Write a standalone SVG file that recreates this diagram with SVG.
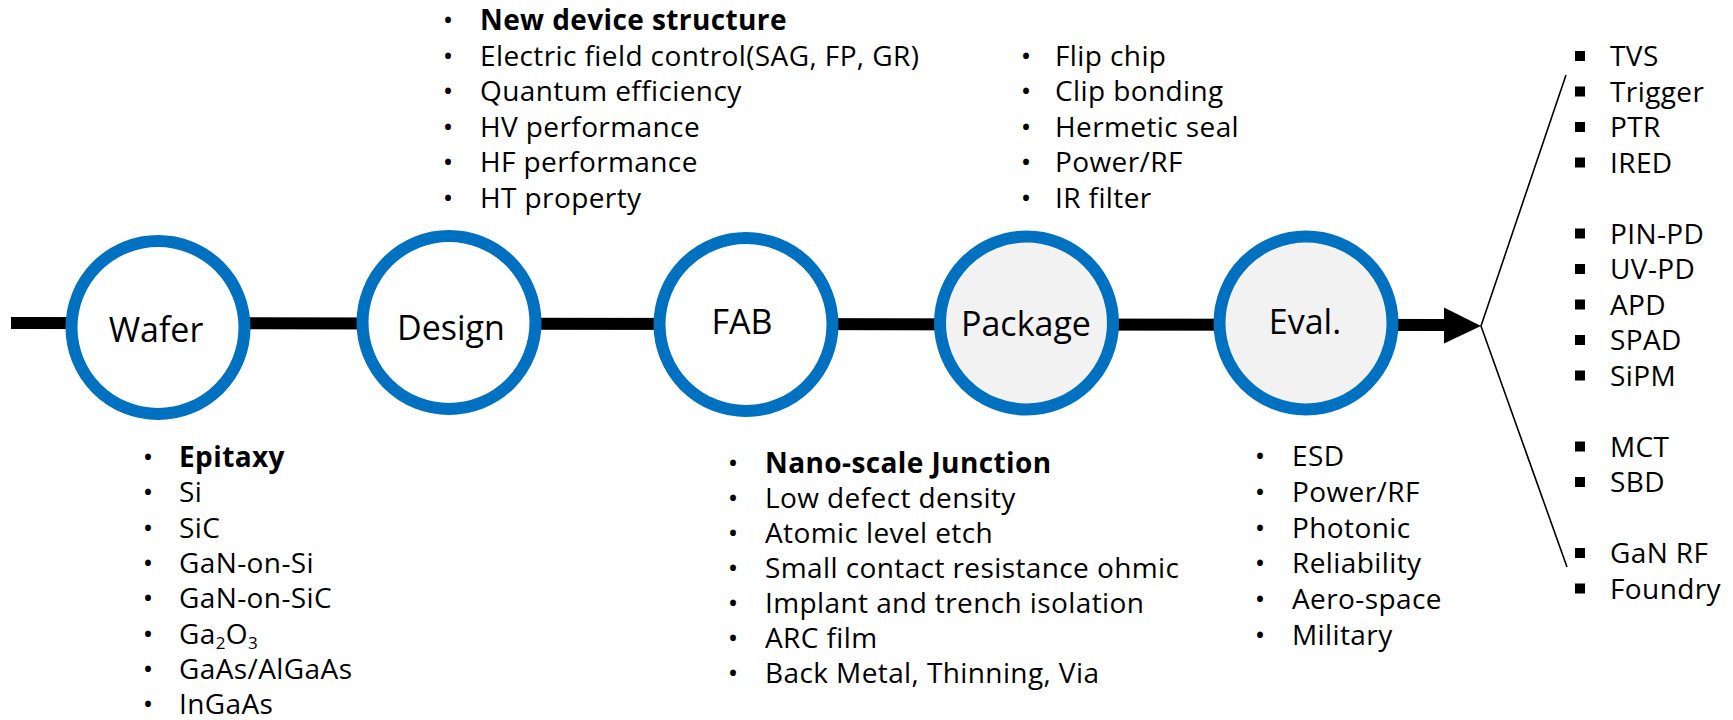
<svg xmlns="http://www.w3.org/2000/svg" width="1733" height="720" viewBox="0 0 1733 720">
<style>
  .t { font-family: "Open Sans", "Noto Sans", "Liberation Sans", sans-serif; font-size: 28px; fill: #000; letter-spacing: 0.4px; }
  .b { font-weight: bold; }
  .lbl { font-family: "Open Sans", "Noto Sans", "Liberation Sans", sans-serif; font-size: 34px; fill: #000; text-anchor: middle; }
  .node { stroke: #0070C0; stroke-width: 12; }
  .white { fill: #FFFFFF; }
  .grey { fill: #F2F2F2; }
  .bul { font-family: "Open Sans", "Noto Sans", "Liberation Sans", sans-serif; font-size: 28px; fill: #000; text-anchor: middle; }
  .sub { font-size: 17px; }
</style>
<defs>
  <rect id="sq" x="-5" y="-5" width="10" height="10" fill="#000"/>
</defs>
<rect x="0" y="0" width="1733" height="720" fill="#FFFFFF"/>

<g id="connectors">
  <line x1="11" y1="323" x2="1446" y2="325" stroke="#000" stroke-width="12"/>
  <polygon points="1444,307.5 1481,326 1444,343.5" fill="#000"/>
  <polyline points="1566,75 1481,326 1567,567" fill="none" stroke="#000" stroke-width="1.6"/>
</g>

<g id="node-wafer">
  <circle class="node white" cx="158" cy="327.5" r="86.5"/>
  <text class="lbl" x="156" y="342">Wafer</text>
</g>
<g id="node-design">
  <circle class="node white" cx="449" cy="322.5" r="86.5"/>
  <text class="lbl" x="451" y="340">Design</text>
</g>
<g id="node-fab">
  <circle class="node white" cx="746" cy="324.5" r="86.5"/>
  <text class="lbl" x="742" y="334">FAB</text>
</g>
<g id="node-package">
  <circle class="node grey" cx="1026.5" cy="323" r="86.5"/>
  <text class="lbl" x="1026" y="335.5">Package</text>
</g>
<g id="node-eval">
  <circle class="node grey" cx="1306" cy="323" r="86.5"/>
  <text class="lbl" x="1305" y="334">Eval.</text>
</g>

<g id="list-design">
  <text class="bul" x="448" y="30">•</text><text class="t b" x="480" y="30">New device structure</text>
  <text class="bul" x="448" y="65.5">•</text><text class="t" x="480" y="65.5">Electric field control(SAG, FP, GR)</text>
  <text class="bul" x="448" y="101">•</text><text class="t" x="480" y="101">Quantum efficiency</text>
  <text class="bul" x="448" y="136.5">•</text><text class="t" x="480" y="136.5">HV performance</text>
  <text class="bul" x="448" y="172">•</text><text class="t" x="480" y="172">HF performance</text>
  <text class="bul" x="448" y="207.5">•</text><text class="t" x="480" y="207.5">HT property</text>
</g>

<g id="list-package">
  <text class="bul" x="1026" y="65.5">•</text><text class="t" x="1055" y="65.5">Flip chip</text>
  <text class="bul" x="1026" y="101">•</text><text class="t" x="1055" y="101">Clip bonding</text>
  <text class="bul" x="1026" y="136.5">•</text><text class="t" x="1055" y="136.5">Hermetic seal</text>
  <text class="bul" x="1026" y="172">•</text><text class="t" x="1055" y="172">Power/RF</text>
  <text class="bul" x="1026" y="207.5">•</text><text class="t" x="1055" y="207.5">IR filter</text>
</g>

<g id="list-wafer">
  <text class="bul" x="148" y="467">•</text><text class="t b" x="179" y="467">Epitaxy</text>
  <text class="bul" x="148" y="502.3">•</text><text class="t" x="179" y="502.3">Si</text>
  <text class="bul" x="148" y="537.6">•</text><text class="t" x="179" y="537.6">SiC</text>
  <text class="bul" x="148" y="572.9">•</text><text class="t" x="179" y="572.9">GaN-on-Si</text>
  <text class="bul" x="148" y="608.2">•</text><text class="t" x="179" y="608.2">GaN-on-SiC</text>
  <text class="bul" x="148" y="643.5">•</text><text class="t" x="179" y="643.5">Ga<tspan class="sub" dy="5">2</tspan><tspan dy="-5">O</tspan><tspan class="sub" dy="5">3</tspan></text>
  <text class="bul" x="148" y="678.8">•</text><text class="t" x="179" y="678.8">GaAs/AlGaAs</text>
  <text class="bul" x="148" y="714">•</text><text class="t" x="179" y="714">InGaAs</text>
</g>

<g id="list-fab">
  <text class="bul" x="733" y="473">•</text><text class="t b" x="765" y="473">Nano-scale Junction</text>
  <text class="bul" x="733" y="508">•</text><text class="t" x="765" y="508">Low defect density</text>
  <text class="bul" x="733" y="543">•</text><text class="t" x="765" y="543">Atomic level etch</text>
  <text class="bul" x="733" y="578">•</text><text class="t" x="765" y="578">Small contact resistance ohmic</text>
  <text class="bul" x="733" y="613">•</text><text class="t" x="765" y="613">Implant and trench isolation</text>
  <text class="bul" x="733" y="648">•</text><text class="t" x="765" y="648">ARC film</text>
  <text class="bul" x="733" y="683">•</text><text class="t" x="765" y="683">Back Metal, Thinning, Via</text>
</g>

<g id="list-eval">
  <text class="bul" x="1260" y="466">•</text><text class="t" x="1292" y="466">ESD</text>
  <text class="bul" x="1260" y="501.8">•</text><text class="t" x="1292" y="501.8">Power/RF</text>
  <text class="bul" x="1260" y="537.6">•</text><text class="t" x="1292" y="537.6">Photonic</text>
  <text class="bul" x="1260" y="573.4">•</text><text class="t" x="1292" y="573.4">Reliability</text>
  <text class="bul" x="1260" y="609.2">•</text><text class="t" x="1292" y="609.2">Aero-space</text>
  <text class="bul" x="1260" y="645">•</text><text class="t" x="1292" y="645">Military</text>
</g>

<g id="list-products">
  <use href="#sq" x="1580" y="56"/><text class="t" x="1610" y="66">TVS</text>
  <use href="#sq" x="1580" y="91.5"/><text class="t" x="1610" y="101.5">Trigger</text>
  <use href="#sq" x="1580" y="127"/><text class="t" x="1610" y="137">PTR</text>
  <use href="#sq" x="1580" y="162.5"/><text class="t" x="1610" y="172.5">IRED</text>
  <use href="#sq" x="1580" y="233.5"/><text class="t" x="1610" y="243.5">PIN-PD</text>
  <use href="#sq" x="1580" y="269"/><text class="t" x="1610" y="279">UV-PD</text>
  <use href="#sq" x="1580" y="304.5"/><text class="t" x="1610" y="314.5">APD</text>
  <use href="#sq" x="1580" y="340"/><text class="t" x="1610" y="350">SPAD</text>
  <use href="#sq" x="1580" y="375.5"/><text class="t" x="1610" y="385.5">SiPM</text>
  <use href="#sq" x="1580" y="446.5"/><text class="t" x="1610" y="456.5">MCT</text>
  <use href="#sq" x="1580" y="482"/><text class="t" x="1610" y="492">SBD</text>
  <use href="#sq" x="1580" y="553"/><text class="t" x="1610" y="563">GaN RF</text>
  <use href="#sq" x="1580" y="588.5"/><text class="t" x="1610" y="598.5">Foundry</text>
</g>
</svg>
